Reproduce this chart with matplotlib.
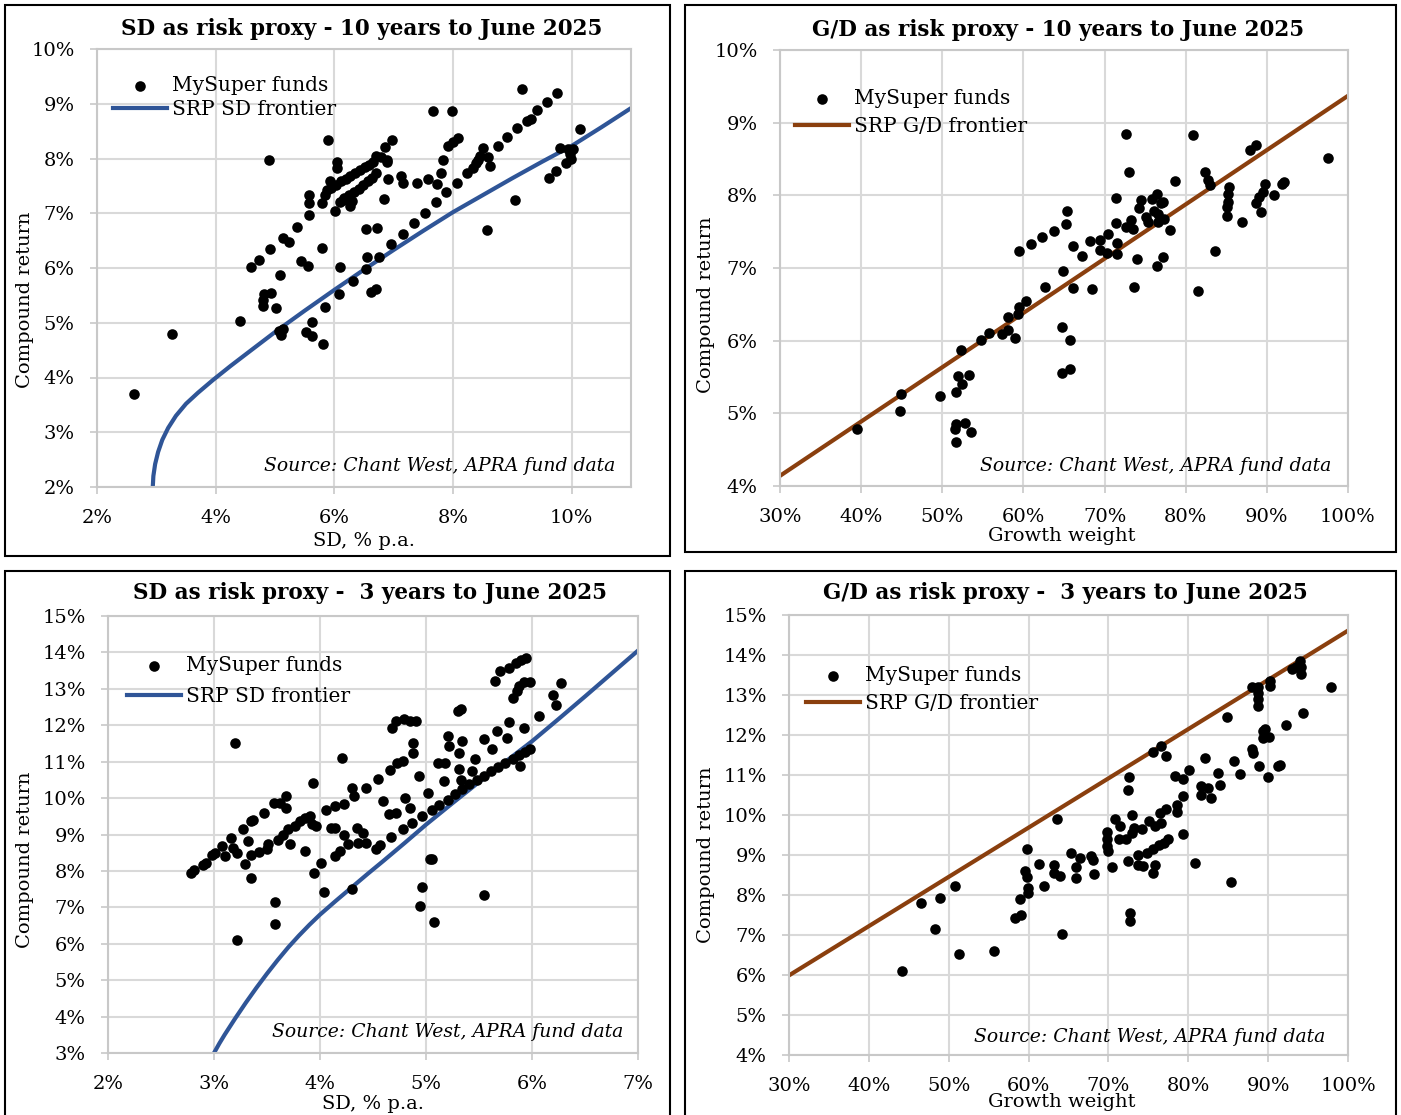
import matplotlib
matplotlib.use("Agg")
import matplotlib.pyplot as plt
from matplotlib.patches import Rectangle

plt.rcParams['font.family'] = 'DejaVu Serif'

W, H = 1401, 1115

# ---- SD as risk proxy, 10 years ----
sd10_sd = [2.62, 3.27, 4.41, 4.60, 4.73, 4.92, 4.90, 5.08, 5.13, 5.23, 5.37, 5.58, 5.57, 5.58, 5.80,
           5.43, 5.56, 4.82, 4.94, 4.79, 4.79, 5.02, 5.07, 5.10, 5.13, 5.62, 5.53, 5.62, 5.81, 5.84,
           6.08, 6.09, 6.32, 6.53, 6.55, 6.75, 6.62, 6.71, 6.54, 6.72, 6.96, 7.15, 7.34, 7.53, 7.71,
           7.89, 8.06, 8.23, 8.33, 8.42, 8.51, 8.59, 8.63, 8.75, 8.91, 9.08, 9.25, 9.31, 9.41, 9.59,
           9.75, 9.16, 10.14, 9.81, 9.93, 10.02, 9.98, 9.99, 9.90, 9.74, 9.62, 9.04, 8.57, 7.67, 7.99,
           7.92, 8.00, 8.08, 7.83, 7.79, 7.73, 7.58, 7.40, 7.12, 7.15, 6.91, 6.83, 6.88, 6.85, 6.98,
           6.70, 5.90, 6.05, 6.05, 5.93, 5.84, 5.80, 6.01, 6.26, 6.29,
           5.87, 5.95, 6.03, 6.11, 6.19, 6.27, 6.35, 6.43, 6.51, 6.58, 6.65,
           6.09, 6.17, 6.25, 6.33, 6.41, 6.49, 6.57, 6.64, 6.71,
           6.79, 6.88, 6.14, 8.45, 8.38]
sd10_ret = [3.69, 4.79, 5.04, 6.01, 6.15, 6.34, 7.98, 5.88, 6.54, 6.48, 6.75, 7.34, 7.19, 6.96, 6.37,
            6.12, 6.04, 5.53, 5.54, 5.42, 5.30, 5.27, 4.85, 4.78, 4.88, 5.01, 4.83, 4.75, 4.61, 5.28,
            5.52, 6.02, 5.77, 5.98, 6.20, 6.21, 5.56, 5.62, 6.72, 6.73, 6.43, 6.62, 6.82, 7.01, 7.20,
            7.39, 7.56, 7.73, 7.83, 7.98, 8.20, 8.02, 7.86, 8.23, 8.40, 8.56, 8.69, 8.72, 8.89, 9.04,
            9.19, 9.27, 8.53, 8.20, 8.17, 8.17, 8.08, 8.00, 7.91, 7.77, 7.65, 7.25, 6.69, 8.86, 8.86,
            8.23, 8.31, 8.37, 7.98, 7.74, 7.53, 7.62, 7.56, 7.68, 7.56, 7.62, 7.26, 7.98, 8.21, 8.34,
            8.05, 8.34, 7.94, 7.83, 7.59, 7.34, 7.19, 7.04, 7.13, 7.22,
            7.42, 7.47, 7.52, 7.58, 7.63, 7.68, 7.74, 7.79, 7.84, 7.89, 7.94,
            7.21, 7.27, 7.33, 7.39, 7.45, 7.51, 7.58, 7.65, 7.73,
            8.03, 7.94, 7.24, 8.05, 7.92]
sd10_front_sd = [2.94, 2.95, 2.98, 3.03, 3.10, 3.20, 3.33, 3.50, 3.70, 3.95, 4.25, 4.60, 5.00,
                 5.50, 6.00, 6.50, 7.00, 7.50, 8.00, 8.50, 9.00, 9.50, 10.0, 10.5, 11.0]
sd10_front_ret = [2.00, 2.20, 2.42, 2.64, 2.86, 3.08, 3.30, 3.52, 3.72, 3.95, 4.21, 4.50, 4.83,
                  5.22, 5.60, 5.97, 6.33, 6.68, 7.02, 7.33, 7.64, 7.94, 8.23, 8.57, 8.92]

# ---- G/D as risk proxy, 10 years ----
gd10_gw = [39.47, 44.96, 44.82, 49.74, 51.74, 52.25, 51.92, 52.39, 53.32, 51.74, 51.60, 52.85, 53.55,
           51.64, 54.71, 55.78, 57.31, 58.05, 58.94, 58.05, 59.35, 59.49, 60.33, 62.65, 64.93, 66.14,
           68.51, 64.74, 65.76, 64.79, 65.76, 59.45, 60.89, 62.33, 63.77, 65.21, 65.39, 66.09, 67.25,
           68.23, 69.48, 70.41, 69.48, 70.27, 71.52, 71.52, 71.43, 71.43, 72.59, 73.52, 73.29, 72.59,
           72.96, 74.03, 73.57, 74.22, 74.45, 75.15, 75.38, 75.84, 76.45, 77.00, 77.23, 76.54, 76.08,
           77.37, 76.63, 78.03, 77.23, 76.45, 78.63, 80.86, 81.46, 83.60, 82.35, 82.72, 83.04, 85.36,
           85.27, 85.23, 85.13, 85.04, 86.94, 87.92, 88.71, 88.62, 89.31, 89.08, 89.54, 89.78, 90.94,
           91.87, 92.10, 97.53]
gd10_ret = [4.79, 5.26, 5.03, 5.24, 5.29, 5.87, 5.52, 5.40, 5.53, 4.86, 4.78, 4.87, 4.75,
            4.60, 6.01, 6.11, 6.09, 6.15, 6.03, 6.33, 6.37, 6.47, 6.54, 6.74, 6.96, 6.73,
            6.71, 6.19, 6.01, 5.55, 5.61, 7.24, 7.33, 7.43, 7.51, 7.61, 7.78, 7.30, 7.16,
            7.37, 7.38, 7.47, 7.25, 7.20, 7.35, 7.19, 7.97, 7.62, 7.57, 7.54, 7.66, 8.84,
            8.32, 7.12, 6.74, 7.82, 7.93, 7.70, 7.63, 7.95, 8.02, 7.89, 7.91, 7.75, 7.79,
            7.68, 7.63, 7.52, 7.15, 7.03, 8.20, 8.83, 6.68, 7.24, 8.32, 8.21, 8.14, 8.11,
            8.02, 7.91, 7.84, 7.72, 7.63, 8.63, 8.69, 7.90, 7.77, 7.98, 8.05, 8.16, 8.01,
            8.15, 8.19, 8.52]
gd10_front_gw = [30, 100]
gd10_front_ret = [4.14, 9.37]

# ---- SD as risk proxy, 3 years ----
sd3_sd = [2.78, 2.81, 2.90, 2.92, 2.98, 3.01, 3.08, 3.10, 3.16, 3.18, 3.22, 3.27, 3.32, 3.29, 3.35,
          3.20, 3.22, 3.58, 3.58, 3.35, 3.37, 3.47, 3.35, 3.42, 3.50, 3.51, 3.57, 3.62, 3.68, 3.68,
          3.60, 3.65, 3.70, 3.76, 3.81, 3.86, 3.91, 3.72, 3.86, 3.93, 3.92, 3.96, 3.94, 4.01, 4.04,
          4.06, 4.14, 4.23, 4.10, 4.14, 4.23, 4.26, 4.14, 4.19, 4.21, 4.30, 4.32, 4.43, 4.35, 4.36,
          4.41, 4.43, 4.30, 4.53, 4.57, 4.55, 4.59, 4.66, 4.65, 4.72, 4.67, 4.73, 4.78, 4.78, 4.80,
          4.85, 4.87, 4.68, 4.72, 4.79, 4.85, 4.91, 4.88, 4.88, 4.93, 4.96, 5.02, 5.04, 5.06, 4.96,
          4.94, 5.08, 5.06, 5.11, 5.18, 5.17, 5.21, 5.22, 5.30, 5.33, 5.31, 5.34, 5.31, 5.33, 5.43,
          5.46, 5.55, 5.62, 5.67, 5.76, 5.78, 5.92, 5.55, 5.65, 5.70, 5.78, 5.85, 5.90, 5.94, 5.82,
          5.86, 5.88, 5.92, 5.98, 5.89, 6.07, 6.20, 6.23, 6.27,
          5.12, 5.21, 5.27, 5.34, 5.41, 5.48, 5.55, 5.61, 5.68, 5.75, 5.82, 5.88, 5.93, 5.98]
sd3_ret = [7.93, 8.02, 8.15, 8.22, 8.45, 8.48, 8.68, 8.41, 8.91, 8.64, 8.50, 9.14, 8.82, 8.18, 7.81,
           11.52, 6.10, 7.15, 6.53, 9.37, 9.41, 9.60, 8.45, 8.52, 8.59, 8.73, 9.87, 9.87, 10.07, 9.73,
           8.86, 9.00, 9.14, 9.23, 9.37, 9.46, 9.51, 8.73, 8.54, 10.42, 9.28, 9.23, 7.95, 8.22, 7.43,
           9.67, 9.78, 9.83, 9.18, 9.18, 9.00, 8.75, 8.42, 8.54, 11.11, 10.28, 10.05, 10.28, 9.18, 8.77,
           9.05, 8.77, 7.51, 8.59, 8.70, 10.53, 9.92, 10.76, 9.55, 9.58, 8.93, 10.97, 11.02, 9.16, 10.01,
           9.73, 9.32, 11.93, 12.12, 12.16, 12.13, 12.12, 11.52, 11.25, 10.60, 9.52, 10.15, 8.32, 8.34, 7.55,
           7.05, 6.60, 9.67, 10.97, 10.95, 10.47, 11.70, 11.43, 12.39, 12.45, 11.25, 11.57, 10.79, 10.51, 10.74,
           11.06, 11.61, 11.36, 11.84, 11.66, 12.09, 11.93, 7.34, 13.21, 13.49, 13.58, 13.70, 13.79, 13.86, 12.76,
           12.94, 13.08, 13.19, 13.19, 10.88, 12.25, 12.82, 12.55, 13.17,
           9.80, 9.96, 10.10, 10.24, 10.38, 10.51, 10.62, 10.74, 10.86, 10.97, 11.08, 11.18, 11.26, 11.36]
sd3_front_sd = [3.00, 3.05, 3.10, 3.20, 3.30, 3.40, 3.50, 3.60, 3.70, 3.80, 3.90, 4.00, 4.15, 4.30,
                4.45, 4.60, 4.80, 5.00, 5.25, 5.50, 5.75, 6.00, 6.25, 6.50, 6.75, 7.00]
sd3_front_ret = [3.00, 3.26, 3.50, 3.95, 4.38, 4.79, 5.18, 5.55, 5.90, 6.22, 6.52, 6.80, 7.18, 7.55,
                 7.92, 8.28, 8.77, 9.27, 9.86, 10.44, 11.00, 11.56, 12.17, 12.79, 13.42, 14.05]

# ---- G/D as risk proxy, 3 years ----
gd3_gw = [44.17, 46.47, 48.33, 48.91, 50.73, 51.30, 55.61, 58.34, 59.06, 58.96, 59.78, 59.54, 59.78,
          59.87, 59.92, 61.35, 61.88, 63.13, 63.22, 63.99, 63.51, 64.18, 65.28, 66.00, 66.00, 66.48,
          67.77, 68.06, 68.20, 69.83, 69.83, 69.83, 69.92, 70.40, 70.78, 71.50, 71.36, 72.22, 72.56,
          72.46, 72.94, 72.70, 72.70, 73.18, 72.94, 74.23, 72.46, 73.66, 73.66, 74.38, 75.09, 75.81,
          76.53, 76.43, 77.25, 75.57, 75.81, 75.57, 76.63, 77.25, 74.86, 75.57, 76.29, 77.01, 77.49,
          78.33, 78.57, 78.57, 79.40, 79.40, 79.40, 80.12, 80.84, 81.56, 81.56, 82.13, 82.42, 82.90,
          83.71, 83.95, 84.81, 85.39, 85.77, 86.44, 87.92, 88.11, 88.88, 87.92, 88.74, 88.74, 88.74,
          88.74, 89.31, 89.55, 89.31, 90.08, 89.93, 90.17, 90.17, 91.23, 91.51, 92.23, 93.04, 94.00,
          94.10, 94.14, 94.34, 97.93, 93.52]
gd3_ret = [6.09, 7.80, 7.15, 7.92, 8.22, 6.53, 6.60, 7.42, 7.51, 7.91, 9.16, 8.59, 8.45,
           8.17, 8.05, 8.78, 8.23, 8.76, 8.55, 8.48, 9.91, 7.03, 9.04, 8.70, 8.43, 8.93,
           8.98, 8.88, 8.53, 9.58, 9.39, 9.22, 9.11, 8.69, 9.90, 9.72, 9.39, 9.39, 10.96,
           10.62, 9.99, 7.56, 7.34, 9.68, 9.55, 9.64, 8.84, 9.01, 8.76, 8.72, 9.85, 9.72,
           9.80, 10.05, 10.15, 8.55, 8.76, 11.58, 11.73, 11.47, 9.05, 9.15, 9.24, 9.30, 9.39,
           10.97, 10.26, 10.07, 10.89, 10.47, 9.53, 11.12, 8.80, 10.72, 10.51, 11.42, 10.68, 10.43,
           11.06, 10.76, 12.44, 8.33, 11.35, 11.02, 11.66, 11.56, 11.22, 13.19, 13.21, 13.06, 12.89,
           12.73, 12.10, 12.14, 11.93, 11.95, 10.96, 13.35, 13.23, 11.22, 11.25, 12.24, 13.65, 13.86,
           13.69, 13.52, 12.56, 13.19, 13.69]
gd3_front_gw = [30, 100]
gd3_front_ret = [5.99, 14.61]

BLUE = '#2f5597'
BROWN = '#8a3f0e'
GRID = '#d9d9d9'


def fx(px):
    return px / W


def fy(py):
    return 1 - py / H


def make_panel(rect, xs, ys, fxs, fys, color, front_label, xlim, ylim, xticks, yticks,
               leg_anchor, leg_spacing, src_pos):
    l, r, t, b = rect
    ax = fig.add_axes([fx(l), fy(b), (r - l) / W, (b - t) / H])
    ax.set_xlim(*xlim)
    ax.set_ylim(*ylim)
    ax.set_xticks(xticks)
    ax.set_yticks(yticks)
    ax.set_xticklabels([f"{v:g}%" for v in xticks])
    ax.set_yticklabels([f"{v:g}%" for v in yticks])
    ax.grid(True, color=GRID, linewidth=1.5)
    ax.set_axisbelow(True)
    for s in ax.spines.values():
        s.set_color('#c8c8c8')
        s.set_linewidth(1.5)
    ax.tick_params(direction='out', length=5, width=1.2, color='#c8c8c8',
                   labelsize=14, pad=11)
    ax.scatter(xs, ys, s=58, color='black', zorder=3, label='MySuper funds', linewidths=0)
    ax.plot(fxs, fys, color=color, linewidth=3, zorder=2, label=front_label,
            solid_joinstyle='round')
    ax.legend(loc='upper left', bbox_to_anchor=leg_anchor, frameon=False,
              fontsize=14.5, borderpad=0, borderaxespad=0, handlelength=2.7,
              handletextpad=0.25, labelspacing=leg_spacing)
    ax.text(src_pos[0], src_pos[1], 'Source: Chant West, APRA fund data', transform=ax.transAxes,
            ha='right', va='center', fontsize=13.5, style='italic', zorder=5)
    return ax


fig = plt.figure(figsize=(W / 100, H / 100), dpi=100)

# panel frames
for (x0, y0, x1, y1) in [(5, 5, 670, 556), (685, 5, 1396, 552),
                         (5, 571, 670, 1125), (685, 571, 1396, 1125)]:
    fig.patches.append(Rectangle((fx(x0), fy(y1)), (x1 - x0) / W, (y1 - y0) / H,
                                 transform=fig.transFigure, fill=False,
                                 edgecolor='black', linewidth=1.5))

make_panel((97, 631, 49, 487), sd10_sd, sd10_ret, sd10_front_sd, sd10_front_ret, BLUE,
           'SRP SD frontier', (2, 11), (2, 10), [2, 4, 6, 8, 10], list(range(2, 11)),
           (0.030, 0.938), 0.22, (0.970, 0.048))
make_panel((780, 1348, 50, 486), gd10_gw, gd10_ret, gd10_front_gw, gd10_front_ret, BROWN,
           'SRP G/D frontier', (30, 100), (4, 10), list(range(30, 101, 10)), list(range(4, 11)),
           (0.026, 0.910), 0.42, (0.970, 0.046))
make_panel((108, 638, 616, 1053), sd3_sd, sd3_ret, sd3_front_sd, sd3_front_ret, BLUE,
           'SRP SD frontier', (2, 7), (3, 15), list(range(2, 8)), list(range(3, 16)),
           (0.036, 0.908), 0.57, (0.972, 0.048))
make_panel((789, 1348, 615, 1055), gd3_gw, gd3_ret, gd3_front_gw, gd3_front_ret, BROWN,
           'SRP G/D frontier', (30, 100), (4, 15), list(range(30, 101, 10)), list(range(4, 16)),
           (0.030, 0.883), 0.42, (0.959, 0.041))

# titles
fig.text(fx(362), fy(29), 'SD as risk proxy - 10 years to June 2025', ha='center', va='center',
         fontsize=15.5, fontweight='bold')
fig.text(fx(1058), fy(30), 'G/D as risk proxy - 10 years to June 2025', ha='center', va='center',
         fontsize=15.5, fontweight='bold')
fig.text(fx(370), fy(593), 'SD as risk proxy -  3 years to June 2025', ha='center', va='center',
         fontsize=15.5, fontweight='bold')
fig.text(fx(1065), fy(593), 'G/D as risk proxy -  3 years to June 2025', ha='center', va='center',
         fontsize=15.5, fontweight='bold')

# axis labels
for (x, y) in [(25, 300), (706, 305), (25, 860), (706, 855)]:
    fig.text(fx(x), fy(y), 'Compound return', rotation=90, ha='center', va='center', fontsize=14)
fig.text(fx(364), fy(541), 'SD, % p.a.', ha='center', va='center', fontsize=14)
fig.text(fx(1062), fy(536), 'Growth weight', ha='center', va='center', fontsize=14)
fig.text(fx(373), fy(1104), 'SD, % p.a.', ha='center', va='center', fontsize=14)
fig.text(fx(1062), fy(1102), 'Growth weight', ha='center', va='center', fontsize=14)

fig.savefig('out.png', dpi=100)
